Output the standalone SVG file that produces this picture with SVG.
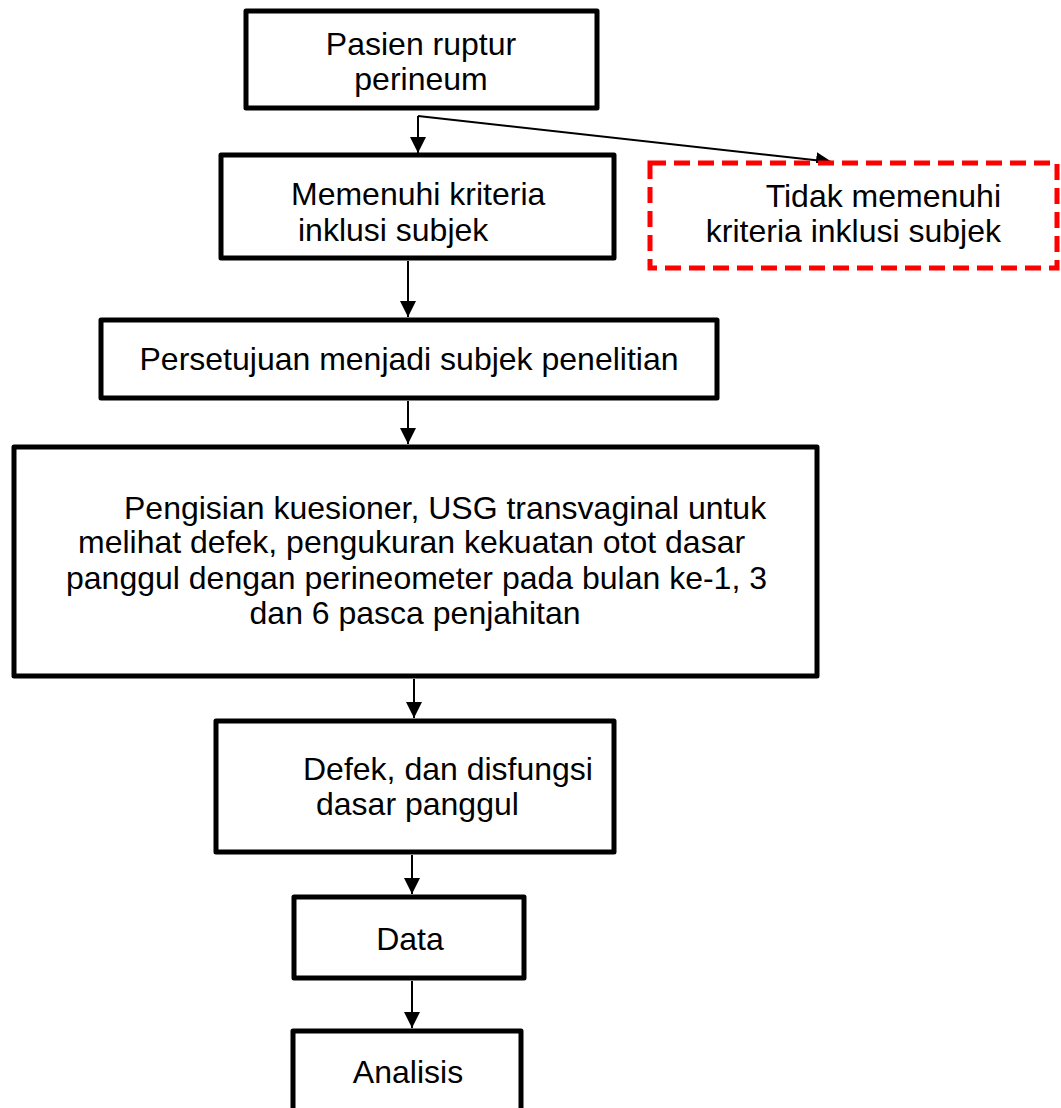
<svg xmlns="http://www.w3.org/2000/svg" width="1061" height="1108" viewBox="0 0 1061 1108">
<style>
.box{fill:#fff;stroke:#000;stroke-width:5;stroke-linejoin:round}
.dash{fill:#fff;stroke:#ff0000;stroke-width:5;stroke-dasharray:16,8}
.t{font-family:"Liberation Sans",Arial,sans-serif;font-size:32px;fill:#000}
.c{text-anchor:middle}
.e{text-anchor:end}
.con{stroke:#000;stroke-width:2;fill:none}
</style>
<defs>
<marker id="ah" viewBox="0 0 10 10" refX="10" refY="5" markerWidth="8" markerHeight="8" markerUnits="strokeWidth" orient="auto">
<path d="M0,0 L10,5 L0,10 Z" fill="#000"/>
</marker>
</defs>
<rect width="1061" height="1108" fill="#fff"/>
<g id="connectors">
<path class="con" d="M418,116 L418,153" marker-end="url(#ah)"/>
<path class="con" d="M418,116 L832,162" marker-end="url(#ah)"/>
<path class="con" d="M408,261 L408,317" marker-end="url(#ah)"/>
<path class="con" d="M408,401 L408,444" marker-end="url(#ah)"/>
<path class="con" d="M414,679 L414,718" marker-end="url(#ah)"/>
<path class="con" d="M412,855 L412,894" marker-end="url(#ah)"/>
<path class="con" d="M412,981 L412,1028" marker-end="url(#ah)"/>
</g>
<g id="n1">
<rect class="box" x="246" y="11" width="351" height="97"/>
<text class="t c" x="421" y="55">Pasien ruptur</text>
<text class="t c" x="421" y="90">perineum</text>
</g>
<g id="n2">
<rect class="box" x="221" y="155" width="393" height="103"/>
<text class="t" x="291" y="205">Memenuhi kriteria</text>
<text class="t" x="298" y="241">inklusi subjek</text>
</g>
<g id="n3">
<rect class="dash" x="650" y="163" width="407" height="105"/>
<text class="t e" x="1001" y="207">Tidak memenuhi</text>
<text class="t e" x="1001" y="242">kriteria inklusi subjek</text>
</g>
<g id="n4">
<rect class="box" x="101" y="320" width="616" height="78"/>
<text class="t c" x="409" y="370">Persetujuan menjadi subjek penelitian</text>
</g>
<g id="n5">
<rect class="box" x="14" y="447" width="803" height="229"/>
<text class="t" x="124" y="519">Pengisian kuesioner, USG transvaginal untuk</text>
<text class="t" x="78" y="553">melihat defek, pengukuran kekuatan otot dasar</text>
<text class="t" x="66" y="589">panggul dengan perineometer pada bulan ke-1, 3</text>
<text class="t c" x="415" y="624">dan 6 pasca penjahitan</text>
</g>
<g id="n6">
<rect class="box" x="216" y="721" width="398" height="131"/>
<text class="t" x="303" y="780">Defek, dan disfungsi</text>
<text class="t" x="316" y="815">dasar panggul</text>
</g>
<g id="n7">
<rect class="box" x="294" y="897" width="230" height="81"/>
<text class="t c" x="410" y="950">Data</text>
</g>
<g id="n8">
<rect class="box" x="293" y="1031" width="228" height="100"/>
<text class="t c" x="408" y="1083">Analisis</text>
</g>
</svg>
